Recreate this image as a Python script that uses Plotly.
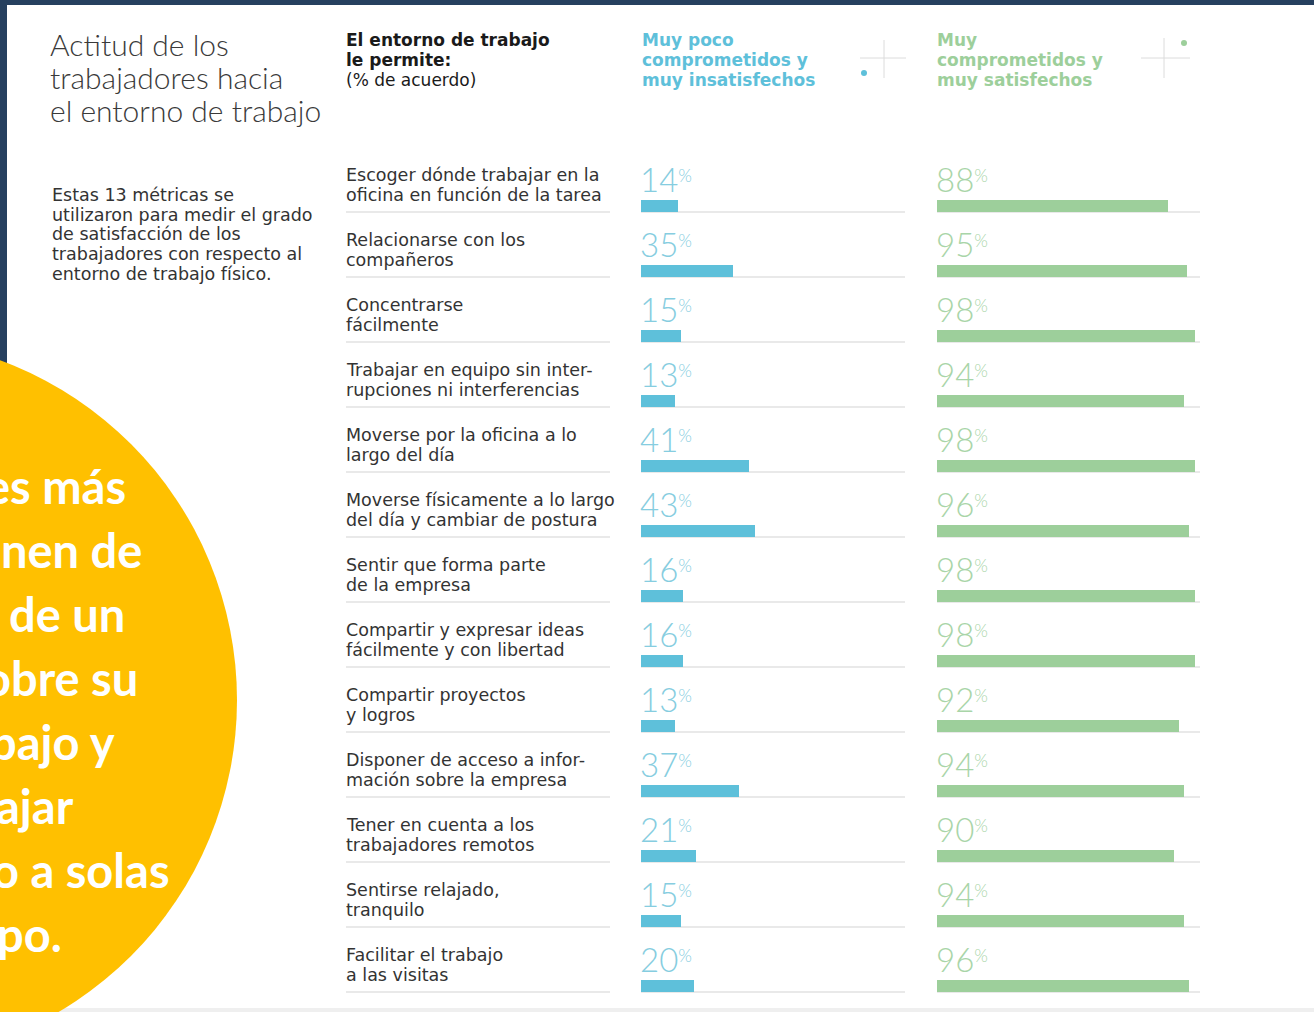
import plotly.graph_objects as go

# ---------------- data ----------------
labels = [
    "Escoger dónde trabajar en la\noficina en función de la tarea",
    "Relacionarse con los\ncompañeros",
    "Concentrarse\nfácilmente",
    "Trabajar en equipo sin inter-\nrupciones ni interferencias",
    "Moverse por la oficina a lo\nlargo del día",
    "Moverse físicamente a lo largo\ndel día y cambiar de postura",
    "Sentir que forma parte\nde la empresa",
    "Compartir y expresar ideas\nfácilmente y con libertad",
    "Compartir proyectos\ny logros",
    "Disponer de acceso a infor-\nmación sobre la empresa",
    "Tener en cuenta a los\ntrabajadores remotos",
    "Sentirse relajado,\ntranquilo",
    "Facilitar el trabajo\na las visitas",
]
poco_comprometidos = [14, 35, 15, 13, 41, 43, 16, 16, 13, 37, 21, 15, 20]
muy_comprometidos = [88, 95, 98, 94, 98, 96, 98, 98, 92, 94, 90, 94, 96]

title_lines = ["Actitud de los", "trabajadores hacia", "el entorno de trabajo"]
intro_lines = ["Estas 13 métricas se", "utilizaron para medir el grado",
               "de satisfacción de los", "trabajadores con respecto al",
               "entorno de trabajo físico."]
question_lines = ["<b>El entorno de trabajo</b>", "<b>le permite:</b>", "(% de acuerdo)"]
group_poco = ["Muy poco", "comprometidos y", "muy insatisfechos"]
group_muy = ["Muy", "comprometidos y", "muy satisfechos"]
callout_lines = ["es más", "nen de", "de un", "obre su", "bajo y", "ajar", "o a solas", "po."]

# ---------------- layout constants ----------------
W, H = 1314, 1012
ROW0, PITCH = 206, 65          # pixel centre of first bar, row pitch
BAR_PX = 12
BLUE, BLUE_TXT = "#5ec0da", "#86cde0"
GREEN, GREEN_TXT = "#9dcf9b", "#a9d5a8"
SEP = "#e2e2e2"
DARK = "#333333"
NAVY = "#26405f"
YELLOW = "#FFC000"
BODY_FONT = "DejaVu Sans"


def px(x):
    return x / W


def py(y):
    return 1 - y / H


n = len(labels)
rows = list(range(n))

fig = go.Figure()
fig.add_trace(go.Bar(x=poco_comprometidos, y=rows, orientation="h", xaxis="x", yaxis="y",
                     width=BAR_PX / PITCH, marker=dict(color=BLUE, line=dict(width=0)),
                     hoverinfo="skip"))
fig.add_trace(go.Bar(x=muy_comprometidos, y=rows, orientation="h", xaxis="x2", yaxis="y",
                     width=BAR_PX / PITCH, marker=dict(color=GREEN, line=dict(width=0)),
                     hoverinfo="skip"))

shapes = []
# dark slide frame
shapes.append(dict(type="rect", xref="paper", yref="paper", x0=0, x1=1, y0=py(5), y1=1,
                   fillcolor=NAVY, line=dict(width=0), layer="below"))
shapes.append(dict(type="rect", xref="paper", yref="paper", x0=0, x1=px(7), y0=0, y1=1,
                   fillcolor=NAVY, line=dict(width=0), layer="below"))
shapes.append(dict(type="rect", xref="paper", yref="paper", x0=0, x1=1, y0=0, y1=py(1008),
                   fillcolor="#efefef", line=dict(width=0), layer="below"))
# yellow callout circle
cx, cy, r = -125, 700, 362
shapes.append(dict(type="circle", xref="paper", yref="paper", x0=px(cx - r), x1=px(cx + r),
                   y0=py(cy + r), y1=py(cy - r), fillcolor=YELLOW, line=dict(width=0)))

# separator lines under each row
off = (BAR_PX / 2) / PITCH
for i in rows:
    yl = i + off
    shapes.append(dict(type="line", xref="paper", yref="y", x0=px(346), x1=px(610), y0=yl, y1=yl,
                       line=dict(color=SEP, width=1.3), layer="below"))
    for xr in ("x domain", "x2 domain"):
        shapes.append(dict(type="line", xref=xr, yref="y", x0=0, x1=1, y0=yl, y1=yl,
                           line=dict(color=SEP, width=1.3), layer="below"))

# header crosshair decorations
for vx, vy0, vy1, hx0, hx1, hy, dx, dy, dc in [
    (884, 40, 78, 860, 906, 58, 864, 73, BLUE),
    (1164, 38, 78, 1141, 1190, 58, 1184, 43, GREEN),
]:
    shapes.append(dict(type="line", xref="paper", yref="paper", x0=px(vx), x1=px(vx),
                       y0=py(vy0), y1=py(vy1), line=dict(color="#dcdcdc", width=1)))
    shapes.append(dict(type="line", xref="paper", yref="paper", x0=px(hx0), x1=px(hx1),
                       y0=py(hy), y1=py(hy), line=dict(color="#dcdcdc", width=1)))
    shapes.append(dict(type="circle", xref="paper", yref="paper", x0=px(dx - 3), x1=px(dx + 3),
                       y0=py(dy + 3), y1=py(dy - 3), fillcolor=dc, line=dict(width=0)))

ann = []


def text(x, y, s, size, color, family=BODY_FONT, weight=None, xanchor="left"):
    f = dict(size=size, color=color, family=family)
    if weight:
        f["weight"] = weight
    ann.append(dict(xref="paper", yref="paper", x=px(x), y=py(y), text=s, showarrow=False,
                    xanchor=xanchor, yanchor="middle", font=f))


# title
for k, s in enumerate(title_lines):
    text(48, 44 + 33 * k, s, 30, "#3a3a3a", family="Lato", weight=300)
# intro paragraph
for k, s in enumerate(intro_lines):
    text(50, 195 + 19.7 * k, s, 17.5, DARK)
# column headers
for k, s in enumerate(question_lines):
    text(344, 40 + 20 * k, s, 17, "#1a1a1a")
for k, s in enumerate(group_poco):
    text(640, 40 + 20 * k, "<b>" + s + "</b>", 17, BLUE)
for k, s in enumerate(group_muy):
    text(935, 40 + 20 * k, "<b>" + s + "</b>", 17, GREEN)

# row labels and value labels
for i, lab in enumerate(labels):
    parts = lab.split("\n")
    for k, s in enumerate(parts):
        ann.append(dict(xref="paper", yref="y", x=px(344), y=i - 31 / PITCH + 20 * k / PITCH,
                        text=s, showarrow=False, xanchor="left", yanchor="middle",
                        font=dict(size=17.5, color=DARK, family=BODY_FONT)))
    for xr, vals, col in (("x", poco_comprometidos, BLUE_TXT), ("x2", muy_comprometidos, GREEN_TXT)):
        ann.append(dict(xref=xr, yref="y", x=0, y=i - 27 / PITCH,
                        text=f"{vals[i]}<span style='font-size:25px'><sup>%</sup></span>",
                        showarrow=False, xanchor="left", yanchor="middle", xshift=-3,
                        font=dict(size=33, color=col, family="Lato", weight=300)))

# callout text (clipped by the page edge as in the source)
callout_right = [128, 144, 127, 140, 117, 76, 172, 64]
for k, s in enumerate(callout_lines):
    text(callout_right[k], 486 + 64 * k, s, 47, "white", family="Lato", weight=700, xanchor="right")

fig.update_layout(
    width=W, height=H, margin=dict(l=0, r=0, t=0, b=0),
    paper_bgcolor="white", plot_bgcolor="rgba(0,0,0,0)",
    showlegend=False, bargap=0,
    xaxis=dict(domain=[px(641), px(905)], range=[0, 100], visible=False, fixedrange=True),
    xaxis2=dict(domain=[px(937), px(1200)], range=[0, 100], visible=False, anchor="y", fixedrange=True),
    yaxis=dict(domain=[0, 1], range=[(H - ROW0) / PITCH, -ROW0 / PITCH], visible=False, fixedrange=True),
    shapes=shapes, annotations=ann,
)

fig.write_html("out.html")
